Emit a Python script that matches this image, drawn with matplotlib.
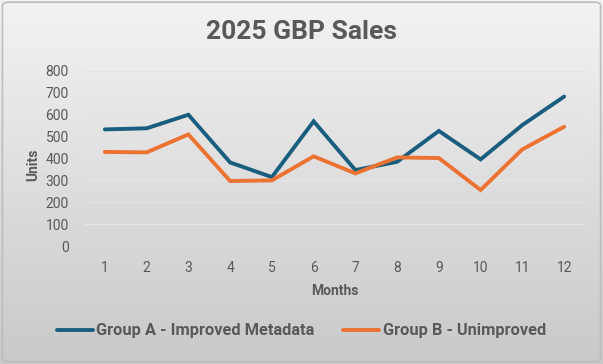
import matplotlib
matplotlib.use("Agg")
import matplotlib.pyplot as plt
import numpy as np
from matplotlib.patches import FancyBboxPatch
from matplotlib.colors import LinearSegmentedColormap

months = [1, 2, 3, 4, 5, 6, 7, 8, 9, 10, 11, 12]
group_a = [533, 538, 600, 382, 315, 570, 347, 385, 526, 396, 553, 683]
group_b = [430, 428, 510, 297, 300, 410, 332, 405, 402, 256, 442, 545]
yticks = [0, 100, 200, 300, 400, 500, 600, 700, 800]
label_a = "Group A - Improved Metadata"
label_b = "Group B - Unimproved"

FONT = ['Roboto', 'DejaVu Sans']
plt.rcParams['font.family'] = FONT
TXT = '#595959'

W, H = 603, 364
fig = plt.figure(figsize=(W / 100, H / 100), dpi=100)

# background gradient
bg = fig.add_axes([0, 0, 1, 1], zorder=-5)
grad = np.linspace(0, 1, 256).reshape(-1, 1)
cmap = LinearSegmentedColormap.from_list('g', ['#f3f3f3', '#c9c9c9'])
bg.imshow(grad, aspect='auto', cmap=cmap, extent=[0, 1, 0, 1], origin='upper')
bg.add_patch(FancyBboxPatch((0.004, 0.006), 0.992, 0.988,
                            boxstyle='round,pad=0,rounding_size=0.01',
                            transform=bg.transAxes, fill=False,
                            edgecolor='#bdbdbd', linewidth=1.2))
bg.set_xlim(0, 1); bg.set_ylim(0, 1)
bg.axis('off')

left, right = 84 / W, 585 / W
top, bottom = 1 - 71 / H, 1 - 246 / H
ax = fig.add_axes([left, bottom, right - left, top - bottom])
ax.set_facecolor('none')

blue = '#1a5e7f'
orange = '#ec7232'
la, = ax.plot(months, group_a, color=blue, lw=2.8, solid_capstyle='round',
              solid_joinstyle='miter', label=label_a, zorder=3)
lb, = ax.plot(months, group_b, color=orange, lw=2.8, solid_capstyle='round',
              solid_joinstyle='miter', label=label_b, zorder=3)

ax.set_xlim(0.5, 12.5)
ax.set_ylim(0, 800)
ax.set_yticks(yticks)
ax.set_xticks(months)
ax.set_yticklabels([str(v) for v in yticks])
ax.set_xticklabels([str(m) for m in months])
ax.yaxis.grid(True, color='#e4e4e4', lw=1.0, zorder=0)
ax.set_axisbelow(True)
for s in ax.spines.values():
    s.set_visible(False)
ax.tick_params(axis='both', length=0, colors=TXT, labelsize=10)
ax.tick_params(axis='y', pad=11)
ax.tick_params(axis='x', pad=11)

fig.text(0.5, 1 - 32 / H, "2025 GBP Sales", ha='center', va='center',
         fontsize=19, fontweight='bold', color=TXT)
fig.text(335 / W, 1 - 291 / H, "Months", ha='center', va='center',
         fontsize=10, fontweight='bold', color=TXT)
fig.text(33 / W, 1 - 165 / H, "Units", ha='center', va='center',
         rotation=90, fontsize=10, fontweight='bold', color=TXT)

leg = fig.legend(handles=[la, lb], loc='center', bbox_to_anchor=(0.5, 1 - 331 / H),
                 ncol=2, frameon=False, handlelength=2.2,
                 handletextpad=0.2, columnspacing=1.75,
                 prop={'family': FONT, 'weight': 'bold', 'size': 11.8})
for t in leg.get_texts():
    t.set_color(TXT)

fig.savefig('out.png', dpi=100)
